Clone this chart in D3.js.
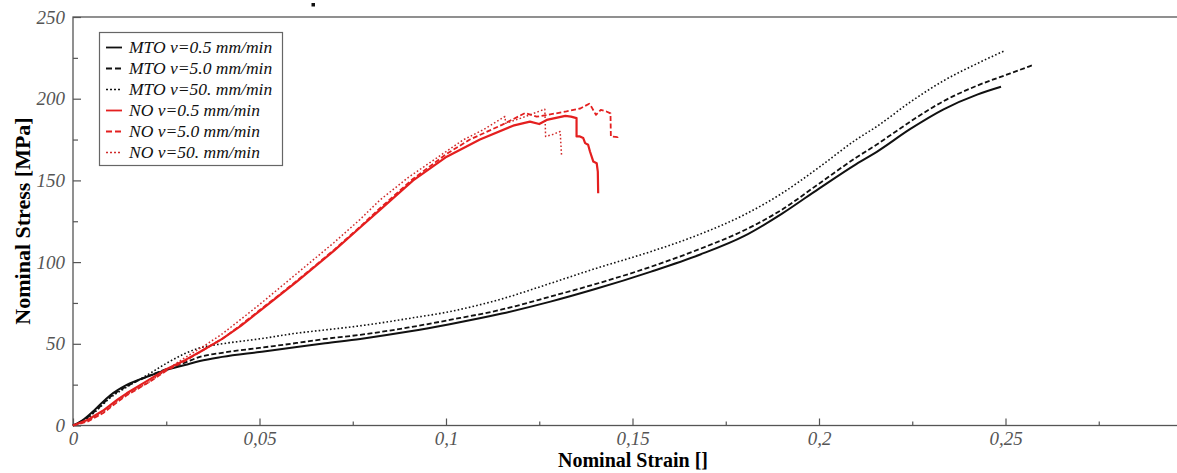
<!DOCTYPE html>
<html lang="en">
<head>
  <meta charset="utf-8">
  <title>Nominal stress vs nominal strain</title>
  <script type="text/javascript" src="https://d3js.org/d3.v7.min.js"></script>
  <style type="text/css">
    body { margin: 0; background: #fff; }
    text { font-family: "Liberation Serif", "Times New Roman", serif; }
  </style>
</head>
<body>
<script type="text/javascript">

// series: strain [-] and nominal stress [MPa]
var mtoSlowStrain = [0, 0.003, 0.006, 0.01, 0.0144, 0.02, 0.025, 0.03, 0.034, 0.04, 0.05, 0.06, 0.0676, 0.077, 0.09, 0.101, 0.115, 0.128, 0.14, 0.155, 0.168, 0.18, 0.19, 0.2, 0.21, 0.2155, 0.2245, 0.2334, 0.2424, 0.2488];
var mtoSlowStress = [0, 4, 10, 18.5, 24.8, 30, 34, 37, 39.5, 42, 45, 48, 50.3, 53, 57.5, 62, 68.5, 75.8, 83.5, 94.2, 104.5, 116, 129.5, 145, 160, 167.5, 181.5, 193.5, 202.5, 207.3];

var mtoMidStrain = [0, 0.003, 0.006, 0.01, 0.0144, 0.02, 0.025, 0.03, 0.034, 0.04, 0.05, 0.06, 0.0676, 0.077, 0.09, 0.101, 0.115, 0.128, 0.14, 0.155, 0.168, 0.18, 0.19, 0.2, 0.21, 0.2155, 0.22, 0.2245, 0.2334, 0.2424, 0.2513, 0.2576];
var mtoMidStress = [0, 3.5, 9, 17.5, 24, 30, 34.5, 38.5, 42, 44.5, 47.5, 50.5, 53, 55.5, 60, 64.6, 71, 78.9, 86.5, 97.2, 108, 119.5, 132, 148, 164, 172, 179, 186, 198.5, 208, 215.5, 220.8];

var mtoFastStrain = [0, 0.003, 0.006, 0.01, 0.0144, 0.02, 0.025, 0.03, 0.034, 0.04, 0.05, 0.06, 0.0676, 0.077, 0.09, 0.101, 0.115, 0.128, 0.14, 0.155, 0.168, 0.18, 0.19, 0.2, 0.21, 0.2155, 0.2245, 0.2334, 0.2424, 0.2499];
var mtoFastStress = [0, 3, 8.5, 17, 23.5, 31, 38, 44, 47.5, 50, 53, 56.5, 58.5, 61, 65.5, 69.7, 77.5, 87, 96, 106.5, 117, 129, 142, 158, 175, 183, 198, 211, 221.5, 229.5];

var noSlowStrain = [0, 0.004, 0.008, 0.012, 0.0144, 0.02, 0.025, 0.03, 0.034, 0.04, 0.045, 0.05, 0.055, 0.06, 0.065, 0.07, 0.0769, 0.0823, 0.0912, 0.1002, 0.1091, 0.118, 0.1225, 0.125, 0.127, 0.132, 0.1335, 0.135, 0.135, 0.1359, 0.1368, 0.1373, 0.1381, 0.1386, 0.1395, 0.1404, 0.1407, 0.1408];
var noSlowStress = [0, 3.5, 9, 16, 19.7, 27.5, 34.5, 40, 45, 53, 61, 70, 79, 88, 97.5, 107, 121, 132, 150, 164.5, 175, 183.5, 186, 184.5, 187, 189.5, 189, 188.1, 176.9, 176.9, 175.9, 172.8, 171.8, 167.7, 161.5, 160.5, 155.4, 142.2];

var noMidStrain = [0, 0.004, 0.008, 0.012, 0.0144, 0.02, 0.025, 0.03, 0.034, 0.04, 0.045, 0.05, 0.055, 0.06, 0.065, 0.07, 0.0769, 0.0823, 0.0912, 0.1, 0.1064, 0.115, 0.1212, 0.1243, 0.127, 0.1323, 0.136, 0.1384, 0.139, 0.1402, 0.1415, 0.143, 0.1441, 0.1442, 0.146, 0.1462];
var noMidStress = [0, 2.5, 7.5, 14.5, 18.5, 26, 33.5, 39.5, 45, 53, 61.5, 70.5, 79.5, 88.5, 98, 107.5, 121.5, 133, 151, 166, 175, 184, 191.2, 189, 190, 192.2, 194, 196.9, 195, 190.1, 193.2, 192.2, 191, 176.9, 176.5, 177.9];

var noFastStrain = [0, 0.004, 0.008, 0.012, 0.0144, 0.02, 0.025, 0.03, 0.035, 0.04, 0.045, 0.05, 0.055, 0.06, 0.065, 0.07, 0.0769, 0.0823, 0.09, 0.1046, 0.11, 0.1158, 0.116, 0.12, 0.1265, 0.1267, 0.1285, 0.1306, 0.131];
var noFastStress = [0, 3, 8, 15, 19, 26, 34, 41.5, 48.5, 56, 65, 74, 83.5, 93, 102.5, 112, 126, 138, 152, 174.8, 181, 189.1, 185, 188, 193.6, 176.9, 178, 179.9, 164.6];

var seriesNames = ["MTO v=0.5 mm/min", "MTO v=5.0 mm/min", "MTO v=50. mm/min",
                   "NO v=0.5 mm/min", "NO v=5.0 mm/min", "NO v=50. mm/min"];

var xMajorTicks = [0, 0.05, 0.1, 0.15, 0.2, 0.25];
var xMinorTicks = [0.025, 0.075, 0.125, 0.175, 0.225, 0.275];
var yMajorTicks = [0, 50, 100, 150, 200, 250];
var yMinorTicks = [25, 75, 125, 175, 225];

var width = 1177, height = 473;
var margin = {left: 73, top: 17, right: 0, bottom: 48};

var black = "#111", red = "#e41f1f", axisColor = "#555";

var svg = d3.select("body")
    .append("svg")
    .attr("width", width)
    .attr("height", height);

var x = d3.scaleLinear()
    .domain([0, (width - margin.left) / 3730])
    .range([margin.left, width]);

var y = d3.scaleLinear()
    .domain([0, 250])
    .range([height - margin.bottom + 0.5, margin.top]);

// frame
svg.append("rect")
    .attr("x", margin.left)
    .attr("y", margin.top)
    .attr("width", width - margin.left + 5)
    .attr("height", y(0) - margin.top)
    .attr("fill", "none")
    .attr("stroke", axisColor)
    .attr("stroke-width", 1.3);

// x axis (ticks pointing inwards)
var fmt = function(d) { return String(d).replace(".", ","); };

var xAxis = svg.append("g")
    .attr("transform", "translate(0," + y(0) + ")")
    .call(d3.axisBottom(x).tickValues(xMajorTicks).tickSize(-7).tickFormat(fmt));
svg.append("g")
    .attr("transform", "translate(0," + y(0) + ")")
    .call(d3.axisBottom(x).tickValues(xMinorTicks).tickSize(-4).tickFormat(""));

var yAxis = svg.append("g")
    .attr("transform", "translate(" + margin.left + ",0)")
    .call(d3.axisLeft(y).tickValues(yMajorTicks).tickSize(-8));
svg.append("g")
    .attr("transform", "translate(" + margin.left + ",0)")
    .call(d3.axisLeft(y).tickValues(yMinorTicks).tickSize(-5).tickFormat(""));

svg.selectAll(".domain").remove();
svg.selectAll(".tick line").attr("stroke", axisColor).attr("stroke-width", 1.2);
svg.selectAll(".tick text")
    .attr("fill", axisColor)
    .attr("font-size", 19)
    .attr("font-style", "italic");
xAxis.selectAll(".tick text").attr("y", 6);
yAxis.selectAll(".tick text").attr("x", -8);

// axis titles
svg.append("text")
    .attr("x", 633)
    .attr("y", 467)
    .attr("text-anchor", "middle")
    .attr("font-size", 20)
    .attr("font-weight", "bold")
    .text("Nominal Strain []");

svg.append("text")
    .attr("transform", "translate(30,221) rotate(-90)")
    .attr("text-anchor", "middle")
    .attr("font-size", 22)
    .attr("font-weight", "bold")
    .text("Nominal Stress [MPa]");

// stray mark above the plot
svg.append("rect")
    .attr("x", 311.5).attr("y", 3)
    .attr("width", 3.5).attr("height", 3.5)
    .attr("fill", black);

// curves
var series = [
  {strain: mtoSlowStrain, stress: mtoSlowStress, color: black, dash: null, w: 2, smooth: true},
  {strain: mtoMidStrain, stress: mtoMidStress, color: black, dash: "5,2.5", w: 1.8, smooth: true},
  {strain: mtoFastStrain, stress: mtoFastStress, color: black, dash: "1.6,2.2", w: 1.6, smooth: true},
  {strain: noSlowStrain, stress: noSlowStress, color: red, dash: null, w: 2.2, smooth: false},
  {strain: noMidStrain, stress: noMidStress, color: red, dash: "5,2.5", w: 1.8, smooth: false},
  {strain: noFastStrain, stress: noFastStress, color: "#d02a2a", dash: "1.6,2.2", w: 1.5, smooth: false}
];

var smoothLine = d3.line()
    .curve(d3.curveMonotoneX)
    .x(function(d) { return x(d[0]); })
    .y(function(d) { return y(d[1]); });

var stepLine = d3.line()
    .x(function(d) { return x(d[0]); })
    .y(function(d) { return y(d[1]); });

series.forEach(function(s) {
    svg.append("path")
        .datum(d3.zip(s.strain, s.stress))
        .attr("d", s.smooth ? smoothLine : stepLine)
        .attr("fill", "none")
        .attr("stroke", s.color)
        .attr("stroke-width", s.w)
        .attr("stroke-dasharray", s.dash)
        .attr("stroke-linejoin", "round");
});

// legend
var legend = svg.append("g");
legend.append("rect")
    .attr("x", 99.5).attr("y", 32.5)
    .attr("width", 183).attr("height", 133)
    .attr("fill", "#fff")
    .attr("stroke", "#666")
    .attr("stroke-width", 1.2);

var rows = legend.selectAll(".row")
    .data(series)
    .enter()
    .append("g")
    .attr("class", "row")
    .attr("transform", function(d, i) { return "translate(0," + (47.5 + i * 21) + ")"; });

rows.append("line")
    .attr("x1", 106).attr("x2", 122)
    .attr("stroke", function(d) { return d.color; })
    .attr("stroke-width", function(d) { return Math.min(d.w, 1.8); })
    .attr("stroke-dasharray", function(d) { return d.dash ? (d.dash === "5,2.5" ? "6,3" : "2,2") : null; });

rows.append("text")
    .attr("x", 129)
    .attr("y", 5.5)
    .attr("font-size", 17.5)
    .attr("font-style", "italic")
    .attr("fill", "#111")
    .text(function(d, i) { return seriesNames[i]; });

</script>
</body>
</html>
